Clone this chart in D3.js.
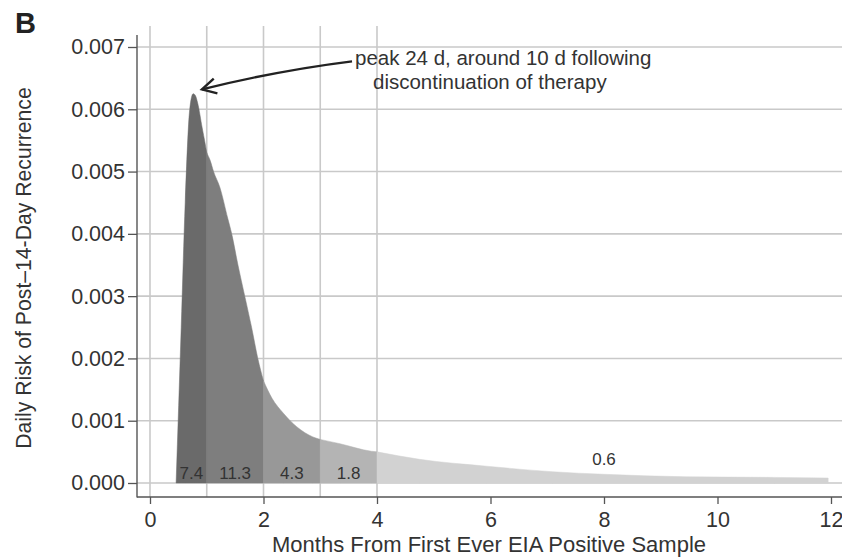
<!DOCTYPE html>
<html>
<head>
<meta charset="utf-8">
<script src="https://cdn.jsdelivr.net/npm/d3@7"></script>
<style>
  body { margin: 0; background: #fff; }
  text { font-family: "Liberation Sans", Arial, sans-serif; }
</style>
</head>
<body>
<div id="root"></div>
<script>
const width = 842
const height = 558

// months since first EIA positive sample, daily risk
const months = [0.46, 0.55, 0.62, 0.7, 0.76, 0.8, 0.84, 0.92, 0.97, 1.0, 1.06, 1.12, 1.23, 1.37, 1.44,
  1.55, 1.67, 1.79, 1.9, 2.0, 2.15, 2.35, 2.59, 2.87, 3.0, 3.35, 3.9, 4.0,
  4.75, 5.93, 7.1, 8.0, 9.45, 11.0, 11.95]
const risk = [0, 0.0025, 0.0045, 0.006, 0.00625, 0.00622, 0.0061, 0.0057, 0.00546, 0.0053, 0.00518, 0.005,
  0.00475, 0.00425, 0.004, 0.0035, 0.003, 0.0025, 0.002, 0.00164, 0.00136, 0.00112, 0.0009,
  0.00074, 0.0007, 0.00063, 0.00051, 0.0005, 0.00038, 0.00027, 0.00018, 0.00014, 0.0001, 0.00009, 0.00008]

// shaded periods and percent labels
const breaks = [0.46, 1, 2, 3, 4, 12]
const shareLabels = ['7.4', '11.3', '4.3', '1.8', '0.6']
const labelRisk = [0.00016, 0.00016, 0.00016, 0.00016, 0.00038]
const shades = ['#6a6a6a', '#7e7e7e', '#989898', '#b4b4b4', '#d2d2d2']

const yTicks = [0, 0.001, 0.002, 0.003, 0.004, 0.005, 0.006, 0.007]
const xTicks = [0, 2, 4, 6, 8, 10, 12]
const xGrid = [0, 1, 2, 3, 4]

const annotation = ['peak 24 d, around 10 d following', 'discontinuation of therapy']
const arrowFrom = [3.56, 0.00677]
const arrowTo = [0.915, 0.00632]

const points = months.map((m, i) => ({ m, r: risk[i] }))

const x = d3.scaleLinear().domain([0, 12]).range([150, 831])
const y = d3.scaleLinear().domain([0, 0.007]).range([483, 47])

const axisX = 137
const axisY = 497
const plotTop = 32

const svg = d3.select('#root').append('svg').attr('width', width).attr('height', height)

// grid
svg.append('g')
  .selectAll('line')
  .data(yTicks)
  .join('line')
  .attr('x1', axisX).attr('x2', width)
  .attr('y1', (d) => y(d)).attr('y2', (d) => y(d))
  .attr('stroke', '#c9c9c9').attr('stroke-width', 1.6)

svg.append('g')
  .selectAll('line')
  .data(xGrid)
  .join('line')
  .attr('x1', (d) => x(d)).attr('x2', (d) => x(d))
  .attr('y1', plotTop - 6).attr('y2', axisY)
  .attr('stroke', '#c9c9c9').attr('stroke-width', 1.6)

const area = d3.area()
  .x((d) => x(d.m))
  .y0(y(0))
  .y1((d) => y(d.r))
  .curve(d3.curveMonotoneX)

const segments = shareLabels.map((label, i) => ({
  label,
  lo: breaks[i],
  hi: breaks[i + 1],
  shade: shades[i],
  ly: labelRisk[i],
  pts: points.filter((p) => p.m >= breaks[i] && p.m <= breaks[i + 1]),
}))

svg.append('g')
  .selectAll('path')
  .data(segments)
  .join('path')
  .attr('d', (d) => area(d.pts))
  .attr('fill', (d) => d.shade)
  .attr('stroke', (d) => d.shade)
  .attr('stroke-width', 0.5)

svg.append('g')
  .selectAll('text')
  .data(segments)
  .join('text')
  .attr('x', (d) => x((d.lo + d.hi) / 2))
  .attr('y', (d) => y(d.ly))
  .attr('dy', '0.35em')
  .attr('text-anchor', 'middle')
  .attr('font-size', 17)
  .attr('fill', '#333')
  .text((d) => d.label)

// axes
const yAxis = svg.append('g')
  .attr('transform', `translate(${axisX},0)`)
  .call(d3.axisLeft(y).tickValues(yTicks).tickFormat(d3.format('.3f')).tickSize(9).tickPadding(3))
yAxis.select('.domain').remove()
yAxis.selectAll('line').attr('stroke', '#555').attr('stroke-width', 1.3)
yAxis.selectAll('text').attr('font-size', 21.5).attr('fill', '#333').attr('font-family', '"Liberation Sans", Arial, sans-serif')

const xAxis = svg.append('g')
  .attr('transform', `translate(0,${axisY})`)
  .call(d3.axisBottom(x).tickValues(xTicks).tickFormat(d3.format('d')).tickSize(7).tickPadding(8))
xAxis.select('.domain').remove()
xAxis.selectAll('line').attr('stroke', '#555').attr('stroke-width', 1.3)
xAxis.selectAll('text').attr('font-size', 21.5).attr('fill', '#333').attr('font-family', '"Liberation Sans", Arial, sans-serif')

svg.append('line')
  .attr('x1', axisX).attr('x2', axisX).attr('y1', plotTop + 3).attr('y2', axisY + 0.6)
  .attr('stroke', '#555').attr('stroke-width', 1.4)
svg.append('line')
  .attr('x1', axisX).attr('x2', width).attr('y1', axisY).attr('y2', axisY)
  .attr('stroke', '#555').attr('stroke-width', 1.4)

// titles
svg.append('text')
  .attr('transform', 'translate(31,268) rotate(-90)')
  .attr('text-anchor', 'middle')
  .attr('font-size', 21.2)
  .attr('fill', '#333')
  .text('Daily Risk of Post\u201314-Day Recurrence')

svg.append('text')
  .attr('x', 489).attr('y', 552)
  .attr('text-anchor', 'middle')
  .attr('font-size', 22)
  .attr('fill', '#333')
  .text('Months From First Ever EIA Positive Sample')

svg.append('text')
  .attr('x', 15).attr('y', 33)
  .attr('font-size', 29)
  .attr('font-weight', 'bold')
  .attr('fill', '#222')
  .text('B')

// annotation
svg.append('text')
  .attr('x', 355).attr('y', 65)
  .attr('font-size', 20.5)
  .attr('fill', '#333')
  .text(annotation[0])
svg.append('text')
  .attr('x', 373).attr('y', 89)
  .attr('font-size', 20.5)
  .attr('fill', '#333')
  .text(annotation[1])

const ax0 = x(arrowFrom[0]), ay0 = y(arrowFrom[1])
const ax1 = x(arrowTo[0]), ay1 = y(arrowTo[1])
const cx = (ax0 + ax1) / 2 + 2, cy = (ay0 + ay1) / 2 - 5
svg.append('path')
  .attr('d', `M${ax0},${ay0} Q${cx},${cy} ${ax1},${ay1}`)
  .attr('fill', 'none').attr('stroke', '#222').attr('stroke-width', 2.4)

const ang = Math.atan2(ay1 - cy, ax1 - cx)
const headLen = 16
const spread = 0.5
svg.append('path')
  .attr('d', `M${ax1 - headLen * Math.cos(ang - spread)},${ay1 - headLen * Math.sin(ang - spread)} L${ax1},${ay1} L${ax1 - headLen * Math.cos(ang + spread)},${ay1 - headLen * Math.sin(ang + spread)}`)
  .attr('fill', 'none').attr('stroke', '#222').attr('stroke-width', 2.4)
</script>
</body>
</html>
